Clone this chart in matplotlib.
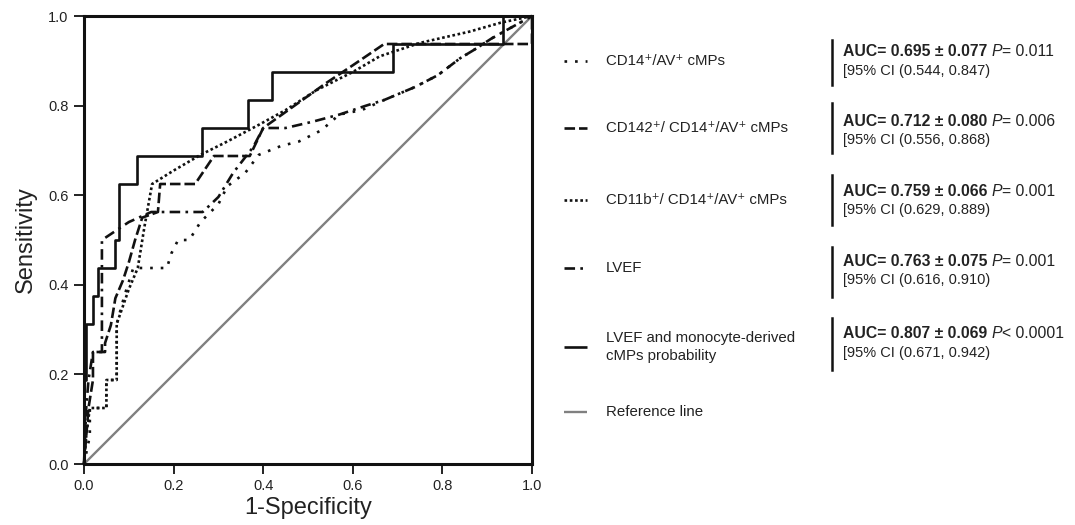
import numpy as np
import matplotlib
matplotlib.use("Agg")
import matplotlib.pyplot as plt

plt.rcParams['font.family'] = ['Liberation Sans', 'DejaVu Sans']

# ROC curves: 1-specificity (x) and sensitivity (y)
fpr_cd14 = [0.0, 0.013, 0.013, 0.05, 0.05, 0.073, 0.073, 0.09, 0.11, 0.185, 0.195, 0.21,
            0.235, 0.26, 0.30, 0.32, 0.36, 0.39, 0.44, 0.48, 0.53, 0.57, 0.62, 0.67, 0.74,
            0.79, 0.84, 0.87, 0.91, 1.0]
tpr_cd14 = [0.0, 0.0625, 0.125, 0.125, 0.1875, 0.1875, 0.3125, 0.375, 0.4375, 0.4375, 0.47, 0.5,
            0.5, 0.54, 0.58, 0.62, 0.65, 0.69, 0.71, 0.72, 0.745, 0.78, 0.79, 0.8125, 0.842,
            0.868, 0.906, 0.924, 0.95, 1.0]

fpr_cd142 = [0.0, 0.005, 0.01, 0.02, 0.02, 0.047, 0.047, 0.06, 0.07, 0.087, 0.1, 0.114, 0.13,
             0.165, 0.17, 0.248, 0.29, 0.37, 0.40, 0.47, 0.54, 0.60, 0.67, 1.0, 1.0]
tpr_cd142 = [0.0, 0.0625, 0.125, 0.1875, 0.25, 0.25, 0.27, 0.31, 0.37, 0.41, 0.45, 0.5, 0.55,
             0.5625, 0.625, 0.625, 0.6875, 0.6875, 0.75, 0.8, 0.85, 0.89, 0.9375, 0.9375, 1.0]

fpr_cd11b = [0.0, 0.005, 0.013, 0.05, 0.05, 0.073, 0.073, 0.1, 0.12, 0.135, 0.152, 0.2, 0.26,
             0.32, 0.39, 0.45, 0.52, 0.6, 0.66, 0.75, 0.86, 0.93, 1.0]
tpr_cd11b = [0.0, 0.0625, 0.125, 0.125, 0.1875, 0.1875, 0.3125, 0.39, 0.4375, 0.53, 0.625, 0.655,
             0.69, 0.72, 0.757, 0.79, 0.835, 0.875, 0.91, 0.94, 0.965, 0.985, 1.0]

fpr_lvef = [0.0, 0.005, 0.01, 0.02, 0.04, 0.04, 0.07, 0.10, 0.15, 0.265, 0.30, 0.333, 0.378,
            0.40, 0.45, 0.51, 0.57, 0.63, 0.67, 0.74, 0.79, 0.84, 0.87, 0.91, 1.0]
tpr_lvef = [0.0, 0.125, 0.1875, 0.25, 0.25, 0.5, 0.52, 0.54, 0.5625, 0.5625, 0.596, 0.65, 0.708,
            0.75, 0.75, 0.764, 0.78, 0.80, 0.8125, 0.842, 0.868, 0.906, 0.924, 0.95, 1.0]

fpr_comb = [0.0, 0.0, 0.005, 0.005, 0.02, 0.02, 0.031, 0.031, 0.07, 0.07, 0.078, 0.078, 0.118,
            0.118, 0.263, 0.263, 0.366, 0.366, 0.42, 0.42, 0.69, 0.69, 0.935, 0.935, 1.0]
tpr_comb = [0.0, 0.1875, 0.1875, 0.3125, 0.3125, 0.375, 0.375, 0.4375, 0.4375, 0.5, 0.5, 0.625,
            0.625, 0.6875, 0.6875, 0.75, 0.75, 0.8125, 0.8125, 0.875, 0.875, 0.9375, 0.9375,
            1.0, 1.0]

fpr_ref = [0.0, 1.0]
tpr_ref = [0.0, 1.0]

labels = ["CD14⁺/AV⁺ cMPs",
          "CD142⁺/ CD14⁺/AV⁺ cMPs",
          "CD11b⁺/ CD14⁺/AV⁺ cMPs",
          "LVEF",
          "LVEF and monocyte-derived\ncMPs probability",
          "Reference line"]
auc_text = ["0.695 ± 0.077", "0.712 ± 0.080", "0.759 ± 0.066", "0.763 ± 0.075", "0.807 ± 0.069"]
p_text = ["= 0.011", "= 0.006", "= 0.001", "= 0.001", "< 0.0001"]
ci_text = ["0.544, 0.847", "0.556, 0.868", "0.629, 0.889", "0.616, 0.910", "0.671, 0.942"]

styles = [dict(color='#111111', lw=1.9, linestyle=(0, (1, 3))),
          dict(color='#111111', lw=1.9, linestyle=(0, (4, 1.5))),
          dict(color='#111111', lw=1.9, linestyle=(0, (1, 1))),
          dict(color='#111111', lw=1.9, linestyle=(0, (4, 2, 1, 2))),
          dict(color='#111111', lw=1.9, linestyle='-'),
          dict(color='#808080', lw=1.7, linestyle='-')]

W, H = 1075, 525
fig = plt.figure(figsize=(W / 100, H / 100), dpi=100)
ax = fig.add_axes([84 / W, (H - 464) / H, 448 / W, 448 / H])

curves = [(fpr_cd14, tpr_cd14), (fpr_cd142, tpr_cd142), (fpr_cd11b, tpr_cd11b),
          (fpr_lvef, tpr_lvef), (fpr_comb, tpr_comb), (fpr_ref, tpr_ref)]
order = [5, 0, 3, 1, 2, 4]
for i in order:
    ax.plot(curves[i][0], curves[i][1], solid_capstyle='butt', dash_capstyle='butt',
            clip_on=False, zorder=3 if i < 5 else 2, **styles[i])

ax.set_xlim(0, 1)
ax.set_ylim(0, 1)
ticks = [0.0, 0.2, 0.4, 0.6, 0.8, 1.0]
ax.set_xticks(ticks)
ax.set_yticks(ticks)
ax.set_xticklabels(["%.1f" % t for t in ticks])
ax.set_yticklabels(["%.1f" % t for t in ticks])
ax.tick_params(direction='out', length=7, width=1.3, labelsize=10.5, pad=4, color='#111111',
               labelcolor='#222222')
for s in ax.spines.values():
    s.set_linewidth(2.2)
    s.set_color('#111111')
ax.set_xlabel("1-Specificity", fontsize=17, color='#222222', labelpad=3)
ax.set_ylabel("Sensitivity", fontsize=17, color='#222222', labelpad=8)

# legend panel on the right, in pixel units
lax = fig.add_axes([0, 0, 1, 1])
lax.set_xlim(0, W)
lax.set_ylim(H, 0)
lax.axis('off')

row_y = [61, 128, 200, 268, 347, 412]
for i, y in enumerate(row_y):
    lax.plot([564, 587], [y, y], solid_capstyle='butt', dash_capstyle='butt', **styles[i])
    lax.text(606, y, labels[i], fontsize=10.8, va='center', ha='left', color='#222222',
             linespacing=1.3)

auc_y = [52, 122, 192, 262, 333]
ci_y = [71, 140, 210, 280, 353]
bars = [(40, 85), (103, 153), (175, 225), (247, 297), (318, 370)]
for i in range(5):
    lax.plot([832, 832], bars[i], color='#111111', lw=1.8)
    t1 = lax.text(843, auc_y[i], "AUC= " + auc_text[i] + " ", fontsize=11.3, fontweight='bold',
                  va='center', ha='left', color='#222222')
    t2 = lax.annotate("P", xy=(1, 0), xycoords=t1, va='bottom', ha='left', fontsize=11.3,
                      style='italic', color='#222222')
    lax.annotate(p_text[i], xy=(1, 0), xycoords=t2, va='bottom', ha='left', fontsize=11.3,
                 color='#222222')
    lax.text(843, ci_y[i], "[95% CI (" + ci_text[i] + ")", fontsize=10.5, va='center',
             ha='left', color='#222222')

fig.savefig("out.png", dpi=100)
